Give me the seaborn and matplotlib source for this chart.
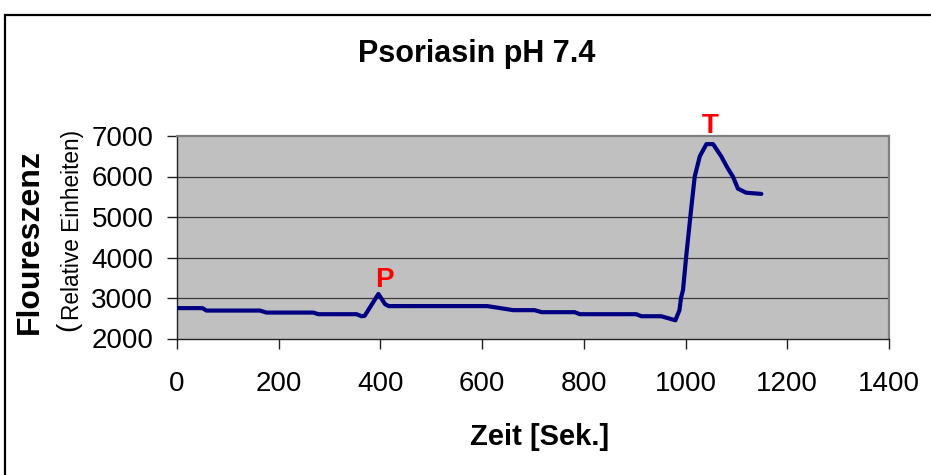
import matplotlib
matplotlib.use("Agg")
import matplotlib.pyplot as plt
from matplotlib.patches import Rectangle
import seaborn as sns
import pandas as pd

# Measured fluorescence trace (time in seconds, relative units)
time_s = [0, 50, 58, 163, 176, 268, 278, 353, 363, 369, 396, 409, 416, 610, 661,
          703, 717, 782, 792, 903, 913, 952, 980, 988, 991, 995, 1001, 1011, 1018,
          1028, 1041, 1054, 1070, 1083, 1093, 1103, 1119, 1149]
fluor = [2750, 2750, 2690, 2690, 2640, 2640, 2600, 2600, 2550, 2560, 3100, 2850, 2800,
         2800, 2700, 2700, 2650, 2650, 2600, 2600, 2550, 2550, 2450, 2700, 3000, 3200,
         4000, 5200, 6000, 6500, 6800, 6800, 6500, 6200, 6000, 5700, 5600, 5570]

x_ticks = [0, 200, 400, 600, 800, 1000, 1200, 1400]
y_ticks = [2000, 3000, 4000, 5000, 6000, 7000]

# Marker positions: P = psoriasin addition peak, T = maximum
p_index = 10
t_index = [30, 31]

sns.set_style("white")
plt.rcParams["font.family"] = ["Liberation Sans", "DejaVu Sans"]
plt.rcParams["text.color"] = "black"
plt.rcParams["xtick.color"] = "black"
plt.rcParams["ytick.color"] = "black"

df = pd.DataFrame({"Zeit": time_s, "Fluoreszenz": fluor})

fig = plt.figure(figsize=(9.31, 4.75), dpi=100)
ax = fig.add_axes([177 / 931, 1 - 338.5 / 475, (889 - 177) / 931, (338.5 - 136) / 475])

ax.set_facecolor("#C0C0C0")
for v in y_ticks[1:-1]:
    ax.axhline(v, color="#3a3a3a", lw=0.9, zorder=1)

sns.lineplot(data=df, x="Zeit", y="Fluoreszenz", ax=ax, color="#000080",
             lw=3.0, zorder=3, sort=False)

ax.set_xlim(0, 1400)
ax.set_ylim(2000, 7000)
ax.set_xticks(x_ticks)
ax.set_yticks(y_ticks)
ax.set_xticklabels([str(t) for t in x_ticks], fontsize=20)
ax.set_yticklabels([str(t) for t in y_ticks], fontsize=20)
ax.tick_params(axis="x", direction="out", length=7.5, width=1, color="#222222",
               labelcolor="black", pad=16, bottom=True)
ax.tick_params(axis="y", direction="out", length=7, width=1, color="#222222",
               labelcolor="black", pad=10, left=True)
ax.set_xlabel("")
ax.set_ylabel("")

for side in ("top", "right"):
    ax.spines[side].set_color("#808080")
    ax.spines[side].set_linewidth(1.6)
for side in ("left", "bottom"):
    ax.spines[side].set_color("#222222")
    ax.spines[side].set_linewidth(1.0)

# Peak labels
ax.annotate("P", xy=(time_s[p_index], fluor[p_index]), xytext=(4, 5),
            textcoords="offset points", ha="center", va="baseline",
            color="#FF0000", fontsize=20, fontweight="bold", annotation_clip=False)
t_mid = (time_s[t_index[0]] + time_s[t_index[1]]) / 2
ax.annotate("T", xy=(t_mid, fluor[t_index[0]]), xytext=(0, 8),
            textcoords="offset points", ha="center", va="baseline",
            color="#FF0000", fontsize=20, fontweight="bold", annotation_clip=False)

# Titles and axis labels
fig.text(477 / 931, 1 - 54 / 475, "Psoriasin pH 7.4", ha="center", va="center",
         fontsize=22, fontweight="bold", color="black")
fig.text(540 / 931, 1 - 437 / 475, "Zeit [Sek.]", ha="center", va="center",
         fontsize=21, fontweight="bold", color="black")
fig.text(30 / 931, 1 - 242 / 475, "Floureszenz", ha="center", va="center",
         rotation=90, fontsize=23, fontweight="bold", color="black")
fig.text(72 / 931, 1 - 225 / 475, "Relative Einheiten)", ha="center", va="center",
         rotation=90, fontsize=16.3, color="black")
fig.text(68 / 931, 1 - 326 / 475, "(", ha="center", va="center",
         rotation=90, fontsize=20, color="black")

# Chart frame
frame_top = 1 - 15 / 475
fig.add_artist(Rectangle((5 / 931, -0.2), 1.2, frame_top + 0.2,
                         transform=fig.transFigure, fill=False,
                         edgecolor="black", lw=1.6))

fig.savefig("out.png", dpi=100)
